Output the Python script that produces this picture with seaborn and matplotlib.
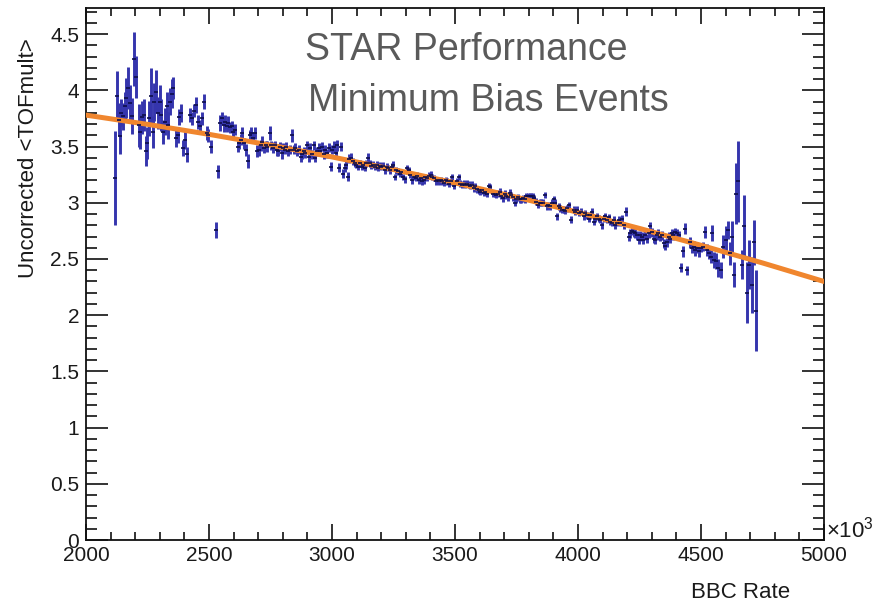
import numpy as np
import pandas as pd
import matplotlib
matplotlib.use("Agg")
import matplotlib.pyplot as plt
from matplotlib.ticker import MultipleLocator, FuncFormatter
import seaborn as sns

# ---- measured <TOFmult> per BBC-rate bin (BBC rate in units of 10^3) ----
bbc_low = [2118, 2126, 2133, 2137, 2143, 2151, 2158, 2164, 2170, 2178, 2185, 2195, 2203, 2214,
           2220, 2227, 2235, 2243, 2250, 2258, 2264, 2272, 2278, 2285, 2292, 2299, 2305, 2315,
           2321, 2328, 2335, 2341, 2348, 2355, 2365, 2373, 2378, 2386, 2395, 2402, 2412, 2423,
           2430, 2439, 2446, 2454, 2463, 2470, 2481, 2490, 2497, 2510, 2527, 2535]
tof_low = [3.22, 3.95, 3.74, 3.59, 3.80, 3.77, 3.86, 3.93, 4.02, 3.89, 3.77, 4.28, 4.12, 3.69,
           3.63, 3.76, 3.78, 3.46, 3.53, 3.75, 3.95, 3.63, 3.90, 3.99, 3.80, 3.90, 3.78, 3.63,
           3.72, 3.86, 3.69, 3.90, 3.97, 4.02, 3.58, 3.60, 3.76, 3.80, 3.49, 3.56, 3.43, 3.78,
           3.75, 3.82, 3.87, 3.72, 3.68, 3.75, 3.90, 3.62, 3.60, 3.50, 2.76, 3.28]
err_low = [0.42, 0.22, 0.15, 0.16, 0.12, 0.12, 0.13, 0.18, 0.19, 0.16, 0.16, 0.24, 0.19, 0.19,
           0.15, 0.15, 0.14, 0.13, 0.14, 0.16, 0.25, 0.14, 0.17, 0.19, 0.14, 0.15, 0.14, 0.11,
           0.12, 0.13, 0.12, 0.12, 0.13, 0.10, 0.08, 0.07, 0.07, 0.08, 0.07, 0.08, 0.07, 0.06,
           0.06, 0.06, 0.07, 0.06, 0.06, 0.06, 0.07, 0.06, 0.06, 0.06, 0.07, 0.06]

bbc_mid1 = [2545, 2552, 2559, 2566, 2572, 2579, 2586, 2593, 2599, 2606, 2616, 2622, 2629, 2636,
            2643, 2649, 2657, 2666, 2672, 2680, 2687, 2697, 2703, 2710, 2717, 2724, 2730, 2737,
            2747, 2753, 2761, 2768, 2775, 2781, 2788, 2795, 2802, 2809, 2815, 2822, 2829, 2837,
            2845, 2851, 2858, 2865, 2872, 2878, 2885, 2892, 2899, 2905, 2912, 2919, 2926, 2932,
            2939, 2946, 2953, 2959, 2966, 2973, 2980]
tof_mid1 = [3.71, 3.75, 3.69, 3.72, 3.68, 3.71, 3.67, 3.68, 3.63, 3.65, 3.50, 3.53, 3.56, 3.62,
            3.53, 3.47, 3.37, 3.60, 3.62, 3.58, 3.62, 3.46, 3.47, 3.51, 3.54, 3.49, 3.51, 3.50,
            3.62, 3.51, 3.49, 3.51, 3.47, 3.46, 3.50, 3.44, 3.49, 3.47, 3.50, 3.46, 3.47, 3.60,
            3.47, 3.49, 3.46, 3.47, 3.41, 3.43, 3.46, 3.44, 3.51, 3.41, 3.49, 3.43, 3.51, 3.40,
            3.46, 3.49, 3.46, 3.50, 3.43, 3.47, 3.44]
err_mid1 = [0.07, 0.06, 0.06, 0.06, 0.05, 0.06, 0.05, 0.05, 0.05, 0.05, 0.05, 0.05, 0.05, 0.05,
            0.05, 0.05, 0.06, 0.05, 0.05, 0.05, 0.05, 0.05, 0.05, 0.05, 0.05, 0.05, 0.04, 0.05,
            0.06, 0.04, 0.05, 0.04, 0.05, 0.04, 0.04, 0.05, 0.04, 0.04, 0.04, 0.04, 0.04, 0.06,
            0.04, 0.04, 0.04, 0.04, 0.05, 0.04, 0.04, 0.04, 0.04, 0.05, 0.04, 0.04, 0.04, 0.04,
            0.04, 0.04, 0.04, 0.04, 0.04, 0.04, 0.04]

bbc_mid2 = [2988, 2995, 3001, 3008, 3015, 3022, 3028, 3035, 3044, 3051, 3058, 3065, 3071, 3079,
            3086, 3093, 3099, 3106, 3113, 3120, 3127, 3133, 3140, 3147, 3154, 3160, 3167, 3174,
            3181, 3188, 3195, 3201, 3208, 3215, 3222, 3228, 3235, 3242, 3249, 3255, 3262, 3269,
            3276, 3282, 3289, 3296, 3306, 3312, 3319, 3326, 3333, 3340, 3346, 3353, 3360, 3367,
            3374, 3380, 3387, 3394, 3401, 3408, 3414, 3421, 3428, 3435, 3442, 3448, 3455, 3462,
            3469, 3475, 3482, 3489, 3496]
tof_mid2 = [3.49, 3.32, 3.47, 3.50, 3.44, 3.51, 3.31, 3.50, 3.26, 3.31, 3.34, 3.23, 3.39, 3.40,
            3.37, 3.35, 3.34, 3.32, 3.35, 3.32, 3.34, 3.31, 3.35, 3.40, 3.35, 3.33, 3.34, 3.32,
            3.34, 3.31, 3.33, 3.32, 3.33, 3.29, 3.32, 3.31, 3.29, 3.32, 3.34, 3.23, 3.29, 3.28,
            3.26, 3.27, 3.23, 3.21, 3.31, 3.29, 3.25, 3.20, 3.23, 3.22, 3.24, 3.20, 3.22, 3.19,
            3.20, 3.23, 3.22, 3.24, 3.25, 3.23, 3.22, 3.19, 3.20, 3.19, 3.20, 3.19, 3.18, 3.20,
            3.19, 3.17, 3.19, 3.23, 3.15]
err_mid2 = [0.04, 0.04, 0.04, 0.05, 0.04, 0.05, 0.04, 0.04, 0.04, 0.04, 0.04, 0.04, 0.04, 0.04,
            0.03, 0.03, 0.03, 0.03, 0.03, 0.03, 0.03, 0.03, 0.03, 0.04, 0.03, 0.03, 0.03, 0.03,
            0.03, 0.03, 0.03, 0.03, 0.03, 0.03, 0.03, 0.03, 0.03, 0.03, 0.03, 0.03, 0.03, 0.03,
            0.03, 0.03, 0.03, 0.03, 0.03, 0.03, 0.03, 0.03, 0.03, 0.03, 0.03, 0.03, 0.03, 0.03,
            0.03, 0.03, 0.03, 0.03, 0.03, 0.03, 0.03, 0.03, 0.03, 0.03, 0.03, 0.03, 0.03, 0.03,
            0.03, 0.03, 0.03, 0.03, 0.03]

bbc_mid3 = [3508, 3515, 3522, 3529, 3535, 3542, 3549, 3556, 3562, 3569, 3576, 3583, 3589, 3596,
            3603, 3610, 3617, 3623, 3630, 3637, 3644, 3655, 3661, 3668, 3675, 3682, 3688, 3695,
            3702, 3709, 3715, 3722, 3729, 3736, 3742, 3749, 3756, 3763, 3769, 3776, 3783, 3790,
            3796, 3803, 3810, 3817, 3823, 3830, 3837, 3844, 3850, 3857, 3865, 3874, 3880, 3887,
            3894, 3901, 3907, 3914, 3921, 3928, 3935, 3942, 3948, 3955, 3965, 3973, 3982, 3989,
            3996]
tof_mid3 = [3.19, 3.23, 3.17, 3.16, 3.17, 3.16, 3.17, 3.16, 3.15, 3.16, 3.13, 3.15, 3.12, 3.11,
            3.10, 3.11, 3.09, 3.10, 3.08, 3.15, 3.14, 3.08, 3.08, 3.07, 3.08, 3.10, 3.06, 3.04,
            3.08, 3.06, 3.05, 3.09, 3.07, 3.05, 3.00, 3.03, 3.05, 3.03, 3.03, 3.04, 3.03, 3.06,
            3.06, 3.06, 3.06, 3.06, 3.04, 3.01, 2.98, 3.00, 3.00, 3.00, 3.07, 2.97, 2.98, 2.97,
            3.00, 3.03, 3.00, 2.88, 2.97, 2.95, 2.94, 2.94, 2.93, 2.95, 2.98, 2.85, 2.94, 2.92,
            2.94]
err_mid3 = [0.03, 0.03, 0.03, 0.03, 0.03, 0.03, 0.03, 0.03, 0.03, 0.03, 0.03, 0.03, 0.03, 0.03,
            0.03, 0.03, 0.03, 0.03, 0.03, 0.03, 0.03, 0.03, 0.03, 0.03, 0.03, 0.03, 0.03, 0.03,
            0.03, 0.03, 0.03, 0.03, 0.03, 0.03, 0.03, 0.03, 0.03, 0.03, 0.03, 0.03, 0.03, 0.03,
            0.03, 0.03, 0.03, 0.03, 0.03, 0.03, 0.03, 0.03, 0.03, 0.03, 0.03, 0.03, 0.03, 0.03,
            0.03, 0.03, 0.03, 0.03, 0.03, 0.03, 0.03, 0.03, 0.03, 0.03, 0.03, 0.03, 0.03, 0.03,
            0.03]

bbc_high = [4005, 4013, 4023, 4030, 4037, 4043, 4050, 4057, 4064, 4070, 4077, 4084, 4091, 4097,
            4104, 4111, 4118, 4124, 4131, 4138, 4145, 4151, 4158, 4165, 4172, 4178, 4185, 4195,
            4206, 4212, 4219, 4226, 4232, 4239, 4246, 4253, 4260, 4266, 4273, 4280, 4287, 4293,
            4300, 4307, 4314, 4320, 4327, 4334, 4341, 4348, 4354, 4361, 4368, 4375, 4382, 4388,
            4395, 4402, 4409, 4417, 4425, 4436, 4445, 4456, 4463, 4470, 4477, 4483, 4490]
tof_high = [2.91, 2.92, 2.88, 2.91, 2.89, 2.86, 2.89, 2.92, 2.83, 2.86, 2.88, 2.86, 2.85, 2.80,
            2.86, 2.88, 2.85, 2.87, 2.83, 2.82, 2.85, 2.80, 2.82, 2.85, 2.82, 2.86, 2.80, 2.92,
            2.70, 2.73, 2.75, 2.74, 2.73, 2.71, 2.67, 2.71, 2.70, 2.67, 2.71, 2.68, 2.73, 2.79,
            2.74, 2.68, 2.67, 2.71, 2.73, 2.70, 2.71, 2.64, 2.62, 2.65, 2.70, 2.68, 2.73, 2.71,
            2.74, 2.73, 2.71, 2.42, 2.57, 2.77, 2.40, 2.65, 2.60, 2.61, 2.58, 2.60, 2.57]
err_high = [0.03, 0.03, 0.03, 0.03, 0.03, 0.03, 0.03, 0.03, 0.03, 0.03, 0.03, 0.03, 0.03, 0.03,
            0.03, 0.03, 0.03, 0.03, 0.03, 0.03, 0.03, 0.03, 0.03, 0.03, 0.03, 0.03, 0.03, 0.04,
            0.04, 0.04, 0.04, 0.04, 0.04, 0.04, 0.04, 0.04, 0.04, 0.04, 0.04, 0.04, 0.04, 0.04,
            0.04, 0.04, 0.04, 0.04, 0.04, 0.04, 0.04, 0.04, 0.04, 0.04, 0.04, 0.04, 0.04, 0.04,
            0.04, 0.04, 0.04, 0.04, 0.05, 0.05, 0.04, 0.05, 0.05, 0.05, 0.05, 0.05, 0.05]

bbc_top = [4499, 4507, 4517, 4523, 4531, 4540, 4546, 4553, 4562, 4571, 4581, 4591, 4600, 4608,
           4618, 4625, 4634, 4643, 4651, 4666, 4675, 4686, 4695, 4706, 4716, 4724]
tof_top = [2.60, 2.61, 2.74, 2.58, 2.55, 2.52, 2.73, 2.49, 2.48, 2.42, 2.40, 2.61, 2.67, 2.76,
           2.55, 2.70, 2.36, 3.08, 3.19, 2.45, 2.79, 2.20, 2.45, 2.27, 2.65, 2.04]
err_top = [0.04, 0.04, 0.05, 0.05, 0.05, 0.06, 0.07, 0.07, 0.07, 0.08, 0.07, 0.10, 0.12, 0.08,
           0.10, 0.14, 0.11, 0.27, 0.36, 0.13, 0.28, 0.27, 0.22, 0.25, 0.20, 0.36]

# ---- fitted trend curve ----
fit_bbc = [2000, 2250, 2500, 2750, 3000, 3250, 3500, 3750, 4000, 4250, 4500, 4750, 5000]
fit_tof = [3.780, 3.698, 3.609, 3.513, 3.408, 3.296, 3.177, 3.050, 2.915, 2.772, 2.622, 2.465, 2.300]

x_ticks = [2000, 2500, 3000, 3500, 4000, 4500, 5000]
y_ticks = [0, 0.5, 1, 1.5, 2, 2.5, 3, 3.5, 4, 4.5]

df = pd.DataFrame({
    "bbc": bbc_low + bbc_mid1 + bbc_mid2 + bbc_mid3 + bbc_high + bbc_top,
    "tof": tof_low + tof_mid1 + tof_mid2 + tof_mid3 + tof_high + tof_top,
    "err": err_low + err_mid1 + err_mid2 + err_mid3 + err_high + err_top,
})
fit_df = pd.DataFrame({"bbc": fit_bbc, "tof": fit_tof})

sns.set_style("ticks")
plt.rcParams["font.family"] = ["Liberation Sans", "DejaVu Sans"]
plt.rcParams["mathtext.fontset"] = "custom"
plt.rcParams["mathtext.rm"] = "Liberation Sans"

W, H = 888, 603
fig = plt.figure(figsize=(W / 100, H / 100), dpi=100)
ax = fig.add_axes([86 / W, 1 - 540 / H, (824 - 86) / W, (540 - 8) / H])

bar_blue = "#3535ad"
dot_navy = "#0d0d4a"
fit_orange = "#f0862e"

ax.errorbar(df["bbc"], df["tof"], yerr=df["err"], fmt="none",
            ecolor=bar_blue, elinewidth=2.1, capsize=0, zorder=2)
sns.lineplot(data=fit_df, x="bbc", y="tof", color=fit_orange, lw=3.6,
             ax=ax, zorder=3, sort=True)
sns.scatterplot(data=df, x="bbc", y="tof", marker="_", s=12, linewidth=1.2,
                color=dot_navy, ax=ax, zorder=4)

ax.set_xlim(2000, 5000)
ax.set_ylim(0, 4.733)
ax.set_xticks(x_ticks)
ax.set_yticks(y_ticks)
ax.xaxis.set_minor_locator(MultipleLocator(100))
ax.yaxis.set_minor_locator(MultipleLocator(0.1))
ax.yaxis.set_major_formatter(FuncFormatter(lambda v, p: f"{v:g}"))
ax.set_xlabel("")
ax.set_ylabel("")

for s in ax.spines.values():
    s.set_visible(True)
    s.set_color("#111111")
    s.set_linewidth(1.3)

ax.tick_params(axis="both", which="both", direction="in", colors="#111111",
               top=True, right=True, width=1.2, labelsize=15, labelcolor="#1a1a1a")
ax.tick_params(axis="x", which="major", length=11.5, pad=4)
ax.tick_params(axis="x", which="minor", length=5.8)
ax.tick_params(axis="y", which="major", length=15.5, pad=5)
ax.tick_params(axis="y", which="minor", length=7.8)

fig.text(305 / W, 1 - 50 / H, "STAR Performance", fontsize=27,
         color="#5a5a5a", ha="left", va="center")
fig.text(308 / W, 1 - 101 / H, "Minimum Bias Events", fontsize=27,
         color="#5a5a5a", ha="left", va="center")

fig.text(790 / W, 1 - 593 / H, "BBC Rate", fontsize=16, color="#1a1a1a",
         ha="right", va="center")
fig.text(29 / W, 1 - 38 / H, "Uncorrected <TOFmult>", fontsize=16, color="#1a1a1a",
         rotation=90, ha="center", va="top")
fig.text(826 / W, 1 - 530 / H, r"×10$^{\mathrm{3}}$", fontsize=16, color="#1a1a1a",
         ha="left", va="center")

fig.savefig("out.png", dpi=100, facecolor="white")
